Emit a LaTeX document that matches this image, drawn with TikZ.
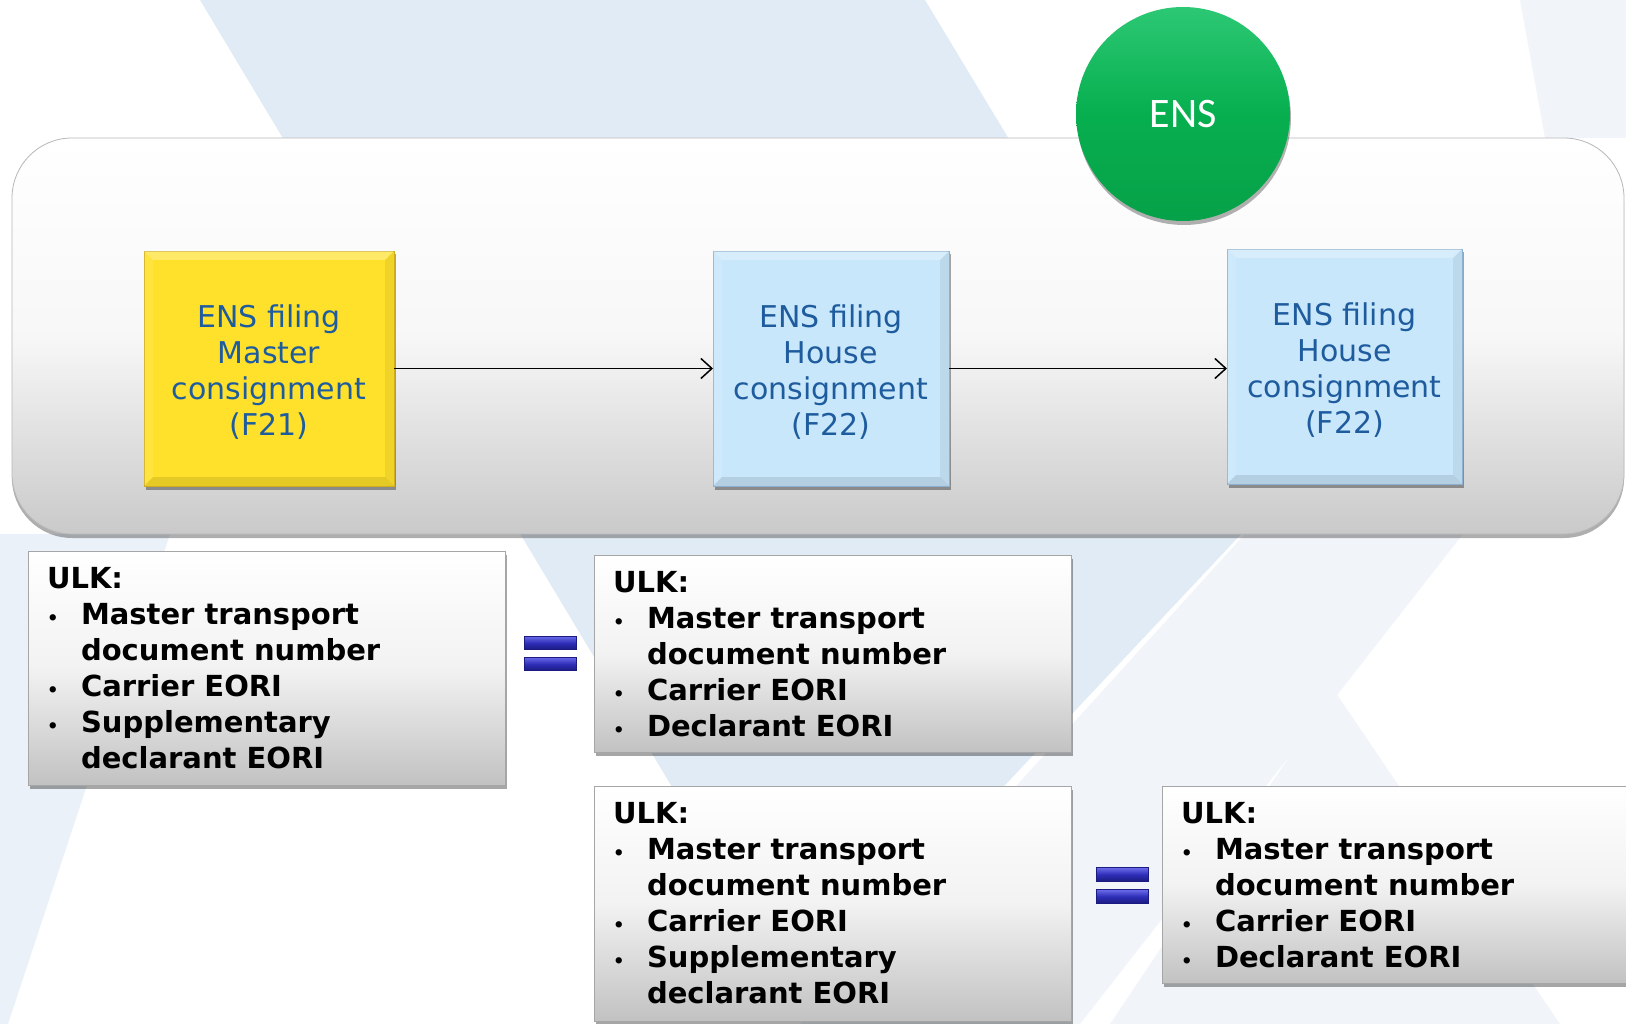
\documentclass[tikz,border=0pt]{standalone}
\usepackage{fontspec}
\setmainfont{DejaVu Sans}
\newfontfamily\ensfont{Carlito}
\usetikzlibrary{shadows,arrows.meta,calc}

\definecolor{bandblue}{HTML}{E1EBF5}
\definecolor{palebl}{HTML}{F1F5FA}
\definecolor{txtblue}{HTML}{1F5C9E}
\definecolor{ylw}{HTML}{FFE12B}
\definecolor{ylwedge}{HTML}{D2B01E}
\definecolor{lblue}{HTML}{C8E7FB}
\definecolor{lbedge}{HTML}{8FB3D4}
\definecolor{ensgreen}{HTML}{07AF4F}
\definecolor{enslight}{HTML}{2CC874}
\definecolor{eqlight}{HTML}{6A6AE8}
\definecolor{eqmid}{HTML}{2E2EB8}
\definecolor{eqdark}{HTML}{1A1A80}

\newcommand\bul{{\fontsize{18}{18}\selectfont\textbullet}}
\newcommand\ulklist[1]{\begin{tabular}{@{}p{34pt}@{}l@{}}\multicolumn{2}{@{}l@{}}{ULK:}\\#1\end{tabular}}
\newcommand\bevel[2]{%
  \fill[white,opacity=.28] (#1.north west) -- (#1.north east) -- ([shift={(-#2,#2)}]#1.north east) -- ([shift={(#2,#2)}]#1.north west) -- cycle;
  \fill[white,opacity=.10] (#1.north west) -- ([shift={(#2,#2)}]#1.north west) -- ([shift={(#2,-#2)}]#1.south west) -- (#1.south west) -- cycle;
  \fill[black,opacity=.06] (#1.north east) -- (#1.south east) -- ([shift={(-#2,-#2)}]#1.south east) -- ([shift={(-#2,#2)}]#1.north east) -- cycle;
  \fill[black,opacity=.10] (#1.south west) -- (#1.south east) -- ([shift={(-#2,-#2)}]#1.south east) -- ([shift={(#2,-#2)}]#1.south west) -- cycle;
}

\begin{document}
\begin{tikzpicture}[x=1pt,y=-1pt,
  every node/.style={inner sep=0pt, outer sep=0pt},
  shadowed/.style={drop shadow={shadow xshift=1.5pt, shadow yshift=-3.5pt, opacity=.35, fill=black}},
  filing/.style={rectangle, minimum height=235pt, line width=.8pt, shadowed},
  filingtext/.style={align=center, text=txtblue, font=\fontsize{30}{36}\selectfont},
  yfiling/.style={filing, fill=ylw, draw=ylwedge},
  bfiling/.style={filing, fill=lblue, draw=lbedge},
  ulkbox/.style={rectangle, anchor=north west, minimum width=477pt,
    top color=white, bottom color=black!24, middle color=black!5,
    draw=black!35, line width=.8pt, shadowed},
  ulktext/.style={anchor=north west, font=\fontsize{29}{36}\selectfont\bfseries, text=black},
  eqbar/.style={rectangle, minimum width=52pt, minimum height=13.5pt,
    top color=eqlight, bottom color=eqdark, middle color=eqmid,
    draw=eqdark, line width=.6pt},
  arr/.style={-{Straight Barb[length=11pt,width=20pt,line width=1.5pt]}, line width=1.5pt, black}
]
\useasboundingbox (0,0) rectangle (1626,1024);
\begin{scope}
\clip (0,0) rectangle (1626,1024);
\fill[white] (0,0) rectangle (1626,1024);
% background bands
\fill[palebl] (1245,534) -- (1463,534) -- (1080,1024) -- (800,1024) -- cycle;
\fill[palebl] (1334,690) -- (1560,1024) -- (1110,1024) -- cycle;
\fill[bandblue] (200,0) -- (925,0) -- (1245,530) -- (801,1002) -- cycle;
\fill[bandblue!70!white] (0,534) -- (170,534) -- (8,1024) -- (0,1024) -- cycle;
\fill[palebl] (1520,0) -- (1626,0) -- (1626,138) -- (1545,138) -- cycle;

% container
\node[rectangle, rounded corners=60pt, minimum width=1612pt, minimum height=396pt,
  top color=white, bottom color=black!21, middle color=black!3, draw=black!28, line width=.8pt,
  drop shadow={shadow xshift=0pt, shadow yshift=-4pt, opacity=.45, fill=black!70}] (cont) at (818,336) {};

% ENS circle
\node[circle, minimum size=214pt, top color=enslight, bottom color=ensgreen!92!black, middle color=ensgreen,
  drop shadow={shadow xshift=1pt, shadow yshift=-4pt, opacity=.3, fill=black},
  text=white, font=\ensfont\fontsize{42}{42}\selectfont] (ens) at (1183,114) {ENS};

% filing boxes
\node[yfiling, minimum width=250pt] (f1) at (269,368.5) {};
\node[bfiling, minimum width=236pt] (f2) at (831,368.5) {};
\node[bfiling, minimum width=235pt] (f3) at (1344.5,366.5) {};
\bevel{f1}{9}
\bevel{f2}{9}
\bevel{f3}{9}
\node[filingtext] (f1t) at ([yshift=-3.5pt]f1.center) {ENS filing\\Master\\consignment\\(F21)};
\node[filingtext] (f2t) at ([yshift=-3.5pt]f2.center) {ENS filing\\House\\consignment\\(F22)};
\node[filingtext] (f3t) at ([yshift=-3.5pt]f3.center) {ENS filing\\House\\consignment\\(F22)};

\draw[arr] (f1.east) -- (f2.west);
\draw[arr] (f2.east) -- (f2.east -| f3.west);

% ULK boxes
\node[ulkbox, minimum height=234pt] (u1) at (28,551) {};
\node[ulktext] (u1t) at ([shift={(19,12)}]u1.north west)
  {\ulklist{\bul & Master transport\\ & document number\\ \bul & Carrier EORI\\ \bul & Supplementary\\ & declarant EORI}};

\node[ulkbox, minimum height=197pt] (u2) at (594,555) {};
\node[ulktext] (u2t) at ([shift={(19,12)}]u2.north west)
  {\ulklist{\bul & Master transport\\ & document number\\ \bul & Carrier EORI\\ \bul & Declarant EORI}};

\node[ulkbox, minimum height=235pt] (u3) at (594,786) {};
\node[ulktext] (u3t) at ([shift={(19,12)}]u3.north west)
  {\ulklist{\bul & Master transport\\ & document number\\ \bul & Carrier EORI\\ \bul & Supplementary\\ & declarant EORI}};

\node[ulkbox, minimum height=197pt] (u4) at (1162,786) {};
\node[ulktext] (u4t) at ([shift={(19,12)}]u4.north west)
  {\ulklist{\bul & Master transport\\ & document number\\ \bul & Carrier EORI\\ \bul & Declarant EORI}};

% equals signs
\node[eqbar] (e1a) at (550,643) {};
\node[eqbar] (e1b) at (550,664) {};
\node[eqbar] (e2a) at (1122,874.5) {};
\node[eqbar] (e2b) at (1122,896.5) {};
\end{scope}
\end{tikzpicture}
\end{document}
